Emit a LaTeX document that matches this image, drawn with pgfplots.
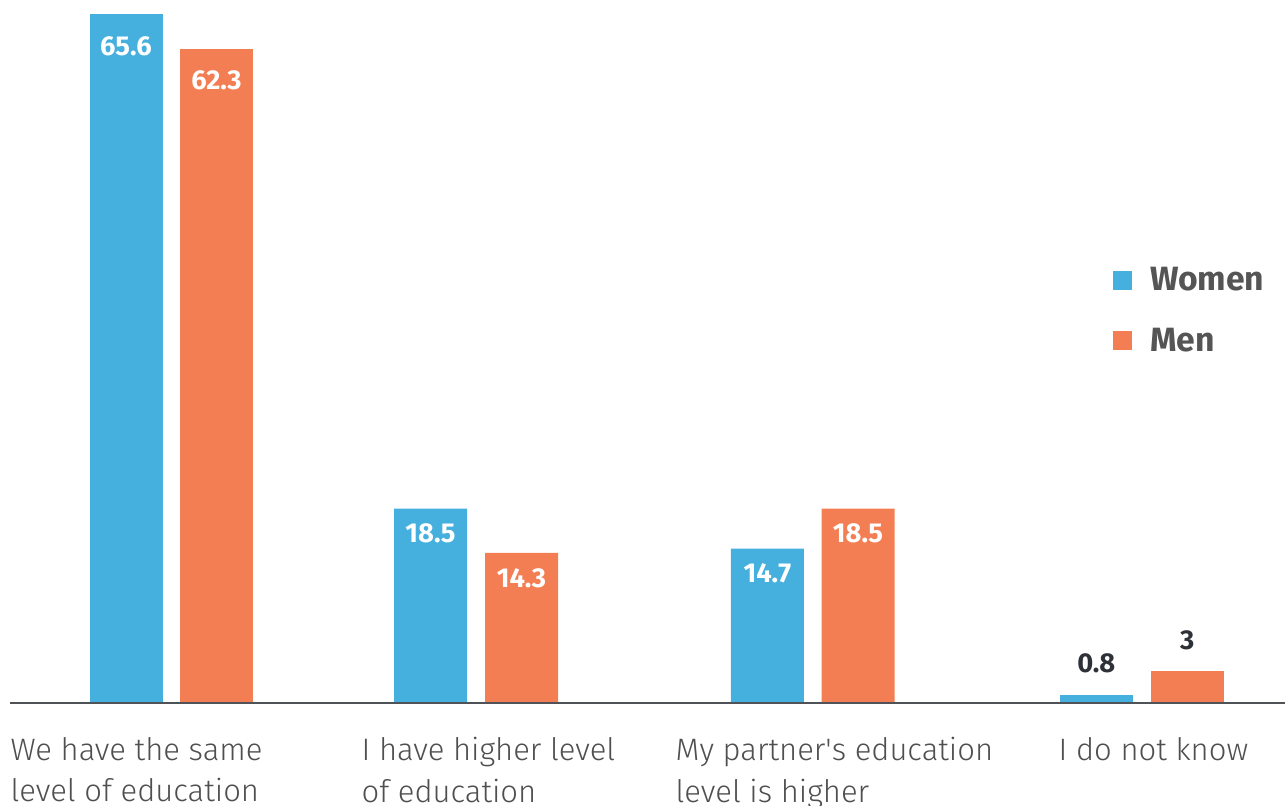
\documentclass[border=0pt]{standalone}
\usepackage{pgfplots}
\pgfplotsset{compat=1.18}
\usepackage{fontspec}
\setmainfont{Fira Sans}
\newfontfamily\lightfont{Fira Sans Light}
\definecolor{cblue}{HTML}{45B0DE}
\definecolor{corange}{HTML}{F47E53}
\definecolor{lblgray}{HTML}{555555}
\definecolor{catgray}{HTML}{4F4F4F}
\definecolor{darklbl}{HTML}{2E3238}
\definecolor{axgray}{HTML}{4F5358}
\begin{document}
\begin{tikzpicture}
\pgfplotsset{
  inlbl/.style={nodes near coords, nodes near coords style={font=\fontsize{8.2}{9}\selectfont\bfseries, text=white, anchor=center, inner sep=0pt, yshift=#1}},
  outlbl/.style={nodes near coords, nodes near coords style={font=\fontsize{8.2}{9}\selectfont\bfseries, text=darklbl, anchor=center, inner sep=0pt, yshift=#1}},
}
\tikzset{
  catlbl/.style={anchor=north west, inner sep=0pt, align=left, font=\lightfont\fontsize{9.3}{12.45}\selectfont, text=catgray, yshift=-10.05pt},
}
\begin{axis}[name=ax, scale only axis, width=382.5pt, height=206.7pt,
  xmin=10, xmax=1285, ymin=0, ymax=65.6,
  hide y axis, axis x line=bottom,
  axis line style={-, draw=axgray, line width=0.45pt},
  xtick=\empty, ytick=\empty, clip=false, axis on top,
  /pgf/number format/assume math mode=true,
  ybar, bar shift=0pt, bar width=73,
  legend style={draw=none, fill=none, inner sep=0pt, outer sep=0pt,
    nodes={inner sep=0pt}, column sep=5.4pt, row sep=9.6pt,
    anchor=west, at={(0.8651,0.5675)},
    font=\fontsize{10.1}{12}\selectfont\bfseries, text=lblgray},
  legend cell align=left,
  legend image code/.code={\fill[#1] (0pt,-2.45pt) rectangle (5.7pt,3.25pt);},
]
\addplot[fill=cblue, draw=none, inlbl=-9.6pt] coordinates {(126,65.6)};
\addplot[fill=corange, draw=none, inlbl=-9.6pt] coordinates {(216.5,62.3)};
\legend{Women, Men}
\addplot[fill=cblue, draw=none, inlbl=-7.5pt, forget plot] coordinates {(430.5,18.5) (767.3,14.7)};
\addplot[fill=corange, draw=none, inlbl=-7.5pt, forget plot] coordinates {(521.5,14.3) (858,18.5)};
\addplot[fill=cblue, draw=none, outlbl=9.4pt, forget plot] coordinates {(1096.3,0.8)};
\addplot[fill=corange, draw=none, outlbl=9.4pt, forget plot] coordinates {(1187.3,3)};
\node[catlbl] at (axis cs:10,0) {We have the same\\level of education};
\node[catlbl] at (axis cs:361,0) {I have higher level\\of education};
\node[catlbl] at (axis cs:675,0) {My partner\textquotesingle s education\\level is higher};
\node[catlbl] at (axis cs:1058,0) {I do not know};
\end{axis}
\pgfresetboundingbox
\path ([shift={(-3pt,-30.6pt)}]ax.south west) rectangle ([shift={(0pt,4.2pt)}]ax.north east);
\end{tikzpicture}
\end{document}
